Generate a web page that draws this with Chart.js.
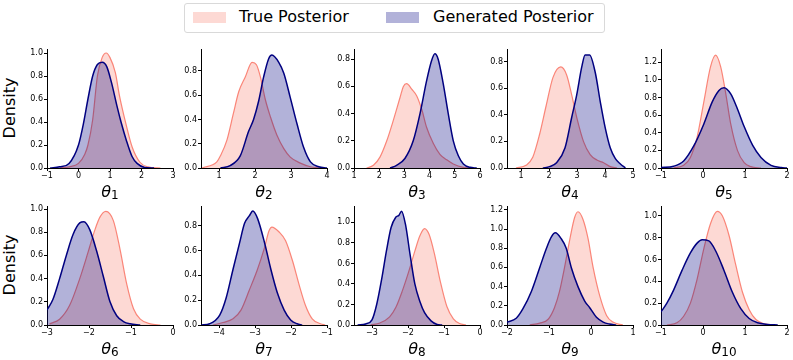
<!DOCTYPE html>
<html>
<head>
<meta charset="utf-8">
<script src="https://cdn.jsdelivr.net/npm/chart.js@4.4.1/dist/chart.umd.min.js"></script>
<style>
  body { margin: 0; width: 793px; height: 360px; overflow: hidden; background: #fff; position: relative; font-family: "DejaVu Sans", sans-serif; color: #000; }
  canvas { position: absolute; }
  .legend-box { position: absolute; left: 184px; top: 3px; width: 421px; height: 30px; border: 1px solid #d9d9d9; border-radius: 3px; box-sizing: border-box; }
  .patch { position: absolute; top: 12px; width: 33px; height: 11px; }
  .legend-text { position: absolute; top: 8px; font-size: 16px; line-height: 18px; white-space: nowrap; }
  .density { position: absolute; width: 100px; height: 20px; font-size: 16px; line-height: 20px; text-align: center; transform: rotate(-90deg); }
  .theta { position: absolute; width: 60px; text-align: center; font-size: 16px; line-height: 20px; }
  .theta sub { font-size: 12px; vertical-align: -2px; line-height: 0; font-style: normal; }
</style>
</head>
<body>
<div class="legend-box"></div>
<div class="patch" style="left:193px;background:rgba(250,128,114,0.3)"></div>
<div class="legend-text" style="left:239px">True Posterior</div>
<div class="patch" style="left:386px;background:rgba(0,0,128,0.3)"></div>
<div class="legend-text" style="left:433px">Generated Posterior</div>

<div class="density" style="left:-40px;top:98px">Density</div>
<div class="density" style="left:-40px;top:255px">Density</div>

<script>
// density curves, [x, density]
const true1 = [[-0.6,0],[-0.3,0.01],[0,0.04],[0.2,0.12],[0.3,0.2],[0.45,0.42],[0.6,0.8],[0.75,0.96],[0.88,1.0],[1.0,0.96],[1.17,0.83],[1.3,0.63],[1.5,0.39],[1.7,0.185],[1.95,0.05],[2.2,0.01],[2.6,0]];
const gen1 = [[-0.9,0],[-0.6,0.01],[-0.3,0.04],[0,0.2],[0.16,0.39],[0.3,0.6],[0.45,0.8],[0.6,0.9],[0.75,0.92],[0.9,0.88],[1.05,0.74],[1.22,0.54],[1.35,0.4],[1.52,0.24],[1.7,0.1],[1.86,0.04],[2.1,0.005],[2.4,0]];

const true2 = [[0.53,0],[0.94,0.05],[1.04,0.1],[1.22,0.23],[1.4,0.45],[1.55,0.63],[1.73,0.75],[1.92,0.87],[2.04,0.85],[2.15,0.75],[2.29,0.56],[2.43,0.42],[2.61,0.27],[2.8,0.16],[2.98,0.09],[3.26,0.04],[3.54,0.01],[3.8,0]];
const gen2 = [[1.04,0],[1.31,0.02],[1.59,0.1],[1.82,0.3],[1.96,0.4],[2.1,0.55],[2.24,0.75],[2.38,0.9],[2.47,0.93],[2.66,0.87],[2.8,0.78],[2.98,0.58],[3.17,0.36],[3.35,0.17],[3.54,0.05],[3.77,0.01],[4.0,0]];

const true3 = [[1.5,0],[1.77,0.02],[2.03,0.08],[2.3,0.2],[2.56,0.35],[2.83,0.52],[2.96,0.6],[3.09,0.62],[3.29,0.58],[3.49,0.53],[3.69,0.43],[3.88,0.3],[4.15,0.18],[4.41,0.1],[4.68,0.06],[4.94,0.03],[5.34,0.005],[5.6,0]];
const gen3 = [[2.43,0],[2.69,0.02],[3.02,0.07],[3.35,0.2],[3.62,0.4],[3.88,0.64],[4.08,0.79],[4.21,0.84],[4.34,0.8],[4.54,0.62],[4.74,0.4],[4.94,0.2],[5.14,0.09],[5.34,0.03],[5.6,0.005],[5.87,0]];

const true4 = [[0.82,0],[1.18,0.02],[1.42,0.08],[1.66,0.25],[1.9,0.47],[2.14,0.68],[2.42,0.76],[2.63,0.7],[2.81,0.55],[2.99,0.38],[3.23,0.2],[3.47,0.1],[3.71,0.06],[3.95,0.04],[4.19,0.01],[4.43,0]];
const gen4 = [[1.78,0],[2.02,0.01],[2.27,0.04],[2.57,0.15],[2.81,0.38],[2.99,0.55],[3.17,0.76],[3.29,0.85],[3.45,0.85],[3.65,0.72],[3.83,0.5],[4.01,0.3],[4.19,0.15],[4.37,0.07],[4.55,0.03],[4.73,0]];

const true5 = [[-0.7,0],[-0.46,0.03],[-0.3,0.12],[-0.14,0.35],[0.02,0.75],[0.18,1.15],[0.3,1.28],[0.42,1.15],[0.54,0.85],[0.66,0.5],[0.82,0.2],[0.98,0.06],[1.14,0.015],[1.38,0]];
const gen5 = [[-1.0,0.005],[-0.7,0.02],[-0.46,0.08],[-0.22,0.25],[0.02,0.5],[0.22,0.75],[0.38,0.88],[0.5,0.91],[0.66,0.84],[0.82,0.67],[0.98,0.47],[1.18,0.26],[1.38,0.12],[1.62,0.03],[1.86,0.005],[2.0,0]];

const true6 = [[-2.94,0.01],[-2.7,0.05],[-2.46,0.17],[-2.22,0.4],[-2.02,0.63],[-1.86,0.82],[-1.74,0.93],[-1.6,0.98],[-1.42,0.9],[-1.26,0.65],[-1.1,0.35],[-0.94,0.14],[-0.78,0.05],[-0.54,0.01],[-0.3,0]];
const gen6 = [[-3.0,0.13],[-2.86,0.22],[-2.7,0.4],[-2.54,0.6],[-2.38,0.78],[-2.22,0.88],[-2.12,0.89],[-1.98,0.82],[-1.82,0.64],[-1.66,0.42],[-1.5,0.2],[-1.34,0.08],[-1.18,0.03],[-1.02,0.01],[-0.78,0]];

const true7 = [[-4.17,0],[-3.89,0.02],[-3.61,0.05],[-3.39,0.12],[-3.16,0.28],[-2.93,0.45],[-2.74,0.62],[-2.61,0.76],[-2.53,0.79],[-2.33,0.75],[-2.15,0.68],[-1.96,0.52],[-1.78,0.33],[-1.6,0.16],[-1.41,0.05],[-1.18,0.01],[-1.05,0]];
const gen7 = [[-4.49,0],[-4.26,0.01],[-3.98,0.08],[-3.8,0.22],[-3.61,0.45],[-3.43,0.66],[-3.29,0.82],[-3.16,0.88],[-3.06,0.92],[-2.93,0.86],[-2.74,0.67],[-2.56,0.45],[-2.38,0.26],[-2.19,0.12],[-2.01,0.04],[-1.83,0.01],[-1.69,0]];

const true8 = [[-3.04,0],[-2.78,0.02],[-2.51,0.08],[-2.34,0.17],[-2.16,0.33],[-1.98,0.52],[-1.81,0.72],[-1.67,0.87],[-1.54,0.94],[-1.41,0.88],[-1.27,0.7],[-1.1,0.42],[-0.92,0.18],[-0.74,0.06],[-0.57,0.015],[-0.39,0]];
const gen8 = [[-3.4,0],[-3.18,0.01],[-3.0,0.05],[-2.87,0.2],[-2.73,0.45],[-2.6,0.72],[-2.47,0.95],[-2.34,1.05],[-2.25,1.07],[-2.18,1.11],[-2.07,0.98],[-1.94,0.68],[-1.81,0.4],[-1.67,0.23],[-1.54,0.12],[-1.36,0.04],[-1.19,0.005],[-1.05,0]];

const true9 = [[-1.46,0],[-1.22,0.02],[-1.02,0.06],[-0.87,0.18],[-0.75,0.35],[-0.63,0.6],[-0.51,0.88],[-0.39,1.12],[-0.31,1.18],[-0.19,1.1],[-0.07,0.9],[0.05,0.6],[0.21,0.3],[0.37,0.1],[0.52,0.03],[0.76,0]];
const gen9 = [[-2.0,0.03],[-1.78,0.07],[-1.62,0.17],[-1.42,0.35],[-1.22,0.6],[-1.06,0.8],[-0.94,0.92],[-0.85,0.96],[-0.71,0.9],[-0.59,0.8],[-0.47,0.6],[-0.31,0.4],[-0.15,0.25],[-0.03,0.18],[0.13,0.08],[0.29,0.03],[0.44,0.01],[0.6,0]];

const true10 = [[-0.86,0],[-0.62,0.02],[-0.46,0.08],[-0.3,0.2],[-0.14,0.42],[0.02,0.7],[0.18,0.93],[0.34,1.04],[0.46,1.0],[0.62,0.82],[0.78,0.55],[0.94,0.3],[1.1,0.14],[1.26,0.05],[1.46,0.01],[1.7,0]];
const gen10 = [[-1.0,0.12],[-0.86,0.2],[-0.7,0.32],[-0.5,0.5],[-0.3,0.66],[-0.14,0.75],[-0.02,0.78],[0.14,0.77],[0.3,0.68],[0.5,0.5],[0.7,0.3],[0.9,0.15],[1.1,0.06],[1.3,0.02],[1.54,0.005],[1.78,0]];

const trueSets = [true1, true2, true3, true4, true5, true6, true7, true8, true9, true10];
const genSets = [gen1, gen2, gen3, gen4, gen5, gen6, gen7, gen8, gen9, gen10];

const xMin = [-1, 0.5, 1, 0.5, -1, -3, -4.5, -3.5, -2, -1];
const xMax = [3, 4, 6, 5, 2, 0, -1, 0, 1, 2];
const xTicks = [[-1,0,1,2,3],[1,2,3,4],[1,2,3,4,5,6],[1,2,3,4,5],[-1,0,1,2],[-3,-2,-1,0],[-4,-3,-2,-1],[-3,-2,-1,0],[-2,-1,0,1],[-1,0,1,2]];
const yMax = [1.035, 0.98, 0.875, 0.895, 1.35, 1.026, 0.96, 1.16, 1.24, 1.09];
const yTicks = [
  [0,0.2,0.4,0.6,0.8,1.0],[0,0.2,0.4,0.6,0.8],[0,0.2,0.4,0.6,0.8],[0,0.2,0.4,0.6,0.8],[0,0.2,0.4,0.6,0.8,1.0,1.2],
  [0,0.2,0.4,0.6,0.8,1.0],[0,0.2,0.4,0.6,0.8],[0,0.2,0.4,0.6,0.8,1.0],[0,0.2,0.4,0.6,0.8,1.0,1.2],[0,0.2,0.4,0.6,0.8,1.0]
];

// panel geometry (plot area)
const plotLeft = [47, 201, 354, 507, 661];
const rowTop = [49, 206];
const plotW = 126, plotH = 119;
const axisW = 32, axisH = 16, padTop = 8, padRight = 8;

const tickFont = { family: 'DejaVu Sans', size: 8 };
const fmtX = v => (v < 0 ? '\u2212' + Math.abs(v) : String(v));

const toPts = arr => arr.map(p => ({ x: p[0], y: p[1] }));

for (let i = 0; i < 10; i++) {
  const r = Math.floor(i / 5), c = i % 5;
  const cv = document.createElement('canvas');
  cv.width = axisW + plotW + padRight;
  cv.height = padTop + plotH + axisH;
  cv.style.left = (plotLeft[c] - axisW) + 'px';
  cv.style.top = (rowTop[r] - padTop) + 'px';
  document.body.appendChild(cv);

  // x label: theta with subscript
  const lab = document.createElement('div');
  lab.className = 'theta';
  lab.style.left = (plotLeft[c] + plotW / 2 - 30) + 'px';
  lab.style.top = (rowTop[r] + plotH + 13.5) + 'px';
  lab.innerHTML = '<i>\u03b8</i><sub>' + (i + 1) + '</sub>';
  document.body.appendChild(lab);

  new Chart(cv, {
    type: 'line',
    data: {
      datasets: [
        {
          label: 'Generated Posterior',
          data: toPts(genSets[i]),
          borderColor: 'navy',
          backgroundColor: 'rgba(0,0,128,0.3)',
          borderWidth: 1.5,
          fill: 'origin',
          pointRadius: 0,
          cubicInterpolationMode: 'monotone',
          order: 1
        },
        {
          label: 'True Posterior',
          data: toPts(trueSets[i]),
          borderColor: 'rgba(250,128,114,0.95)',
          backgroundColor: 'rgba(250,128,114,0.3)',
          borderWidth: 1.2,
          fill: 'origin',
          pointRadius: 0,
          cubicInterpolationMode: 'monotone',
          order: 2
        }
      ]
    },
    options: {
      responsive: false,
      animation: false,
      events: [],
      layout: { padding: { top: padTop, right: padRight, left: 0, bottom: 0 } },
      plugins: { legend: { display: false }, tooltip: { enabled: false } },
      scales: {
        x: {
          type: 'linear',
          min: xMin[i],
          max: xMax[i],
          afterBuildTicks: s => { s.ticks = xTicks[i].map(v => ({ value: v })); },
          afterFit: s => { s.height = axisH; },
          ticks: { font: tickFont, color: '#000', padding: 0, maxRotation: 0, autoSkip: false, callback: fmtX },
          grid: { drawOnChartArea: false, tickLength: 3, color: '#000' },
          border: { color: '#000', width: 1 }
        },
        y: {
          min: 0,
          max: yMax[i],
          afterBuildTicks: s => { s.ticks = yTicks[i].map(v => ({ value: v })); },
          afterFit: s => { s.width = axisW; },
          ticks: { font: tickFont, color: '#000', padding: 1, autoSkip: false, callback: v => v.toFixed(1) },
          grid: { drawOnChartArea: false, tickLength: 3, color: '#000' },
          border: { color: '#000', width: 1 }
        }
      }
    }
  });
}
</script>
</body>
</html>
